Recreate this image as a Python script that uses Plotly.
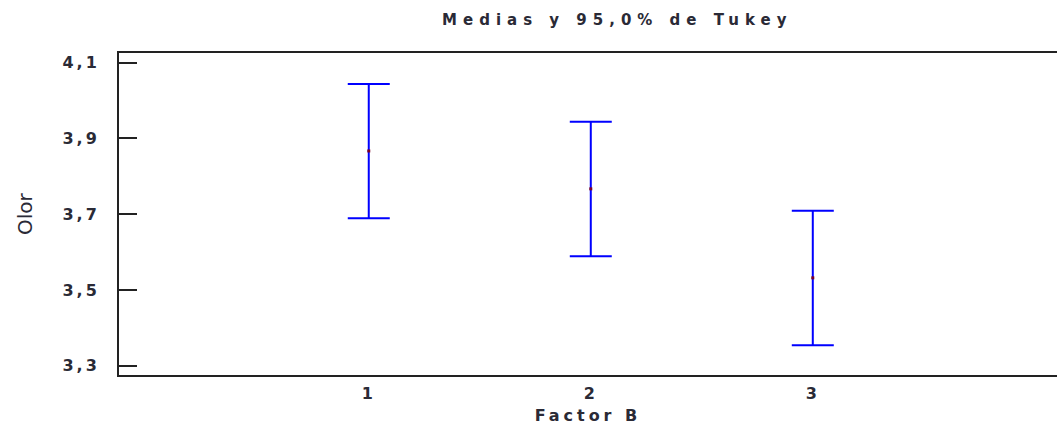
import plotly.graph_objects as go

# Tukey 95% intervals for each level of Factor B
niveles = [1, 2, 3]
medias = [3.867, 3.767, 3.532]
limite_inferior = [3.689, 3.589, 3.354]
limite_superior = [4.044, 3.944, 3.709]
y_ticks = [3.3, 3.5, 3.7, 3.9, 4.1]
x_ticks = [1, 2, 3]

err_plus = [u - m for u, m in zip(limite_superior, medias)]
err_minus = [m - l for m, l in zip(medias, limite_inferior)]

TXT = "#2a2a36"
AXIS = "#222222"
FONT = "DejaVu Sans"
y_range = [3.2754, 4.1257]

fig = go.Figure()
fig.add_trace(go.Scatter(
    x=niveles, y=medias, mode="markers",
    marker=dict(symbol="square", size=3, color="#7a0026"),
    error_y=dict(type="data", symmetric=False, array=err_plus, arrayminus=err_minus,
                 color="#0000ff", thickness=2, width=21),
    showlegend=False, hoverinfo="skip",
))

fig.update_layout(
    width=1057, height=434,
    margin=dict(l=119, r=0, t=53, b=59),
    paper_bgcolor="white", plot_bgcolor="white",
    separators=", ",
    font=dict(family=FONT, color=TXT, size=16),
    title=dict(text="Medias y 95,0% de Tukey", x=0.584, xanchor="center",
               y=0.955, yanchor="middle",
               font=dict(family=FONT, size=15, color=TXT, weight=600)),
    xaxis=dict(range=[-0.125, 4.1], tickvals=x_ticks, ticks="", showgrid=False,
               zeroline=False, showline=True, mirror=True, linecolor=AXIS, linewidth=2,
               ticklabelstandoff=3, tickfont=dict(size=16, weight=600),
               title=dict(text="Factor B", standoff=8, font=dict(size=16, weight=600))),
    yaxis=dict(range=y_range, tickvals=y_ticks, tickformat=".1f", ticks="inside",
               ticklen=18, tickwidth=2, tickcolor=AXIS, showgrid=False, zeroline=False,
               showline=True, linecolor=AXIS, linewidth=2, ticklabelstandoff=14,
               tickfont=dict(size=16, weight=600)),
    yaxis2=dict(range=y_range, tickvals=y_ticks, overlaying="y", side="right",
                ticks="inside", ticklen=14, tickwidth=2, tickcolor=AXIS,
                showticklabels=False, showgrid=False, zeroline=False, showline=False),
    annotations=[dict(text="Olor", xref="paper", yref="paper", x=-0.1002, y=0.5,
                      xanchor="center", yanchor="middle", textangle=-90, showarrow=False,
                      font=dict(family=FONT, size=20, color=TXT))],
)

spacing_js = """
var gd = document.getElementById('{plot_id}');
function espaciar() {
  gd.querySelectorAll('.xtick text, .ytick text').forEach(function(t) { t.style.letterSpacing = '3px'; });
  gd.querySelectorAll('.xtitle').forEach(function(t) { t.style.letterSpacing = '4px'; });
  gd.querySelectorAll('.gtitle').forEach(function(t) { t.style.letterSpacing = '6px'; });
}
espaciar();
gd.on('plotly_afterplot', espaciar);
"""

fig.write_html("out.html", post_script=spacing_js)
